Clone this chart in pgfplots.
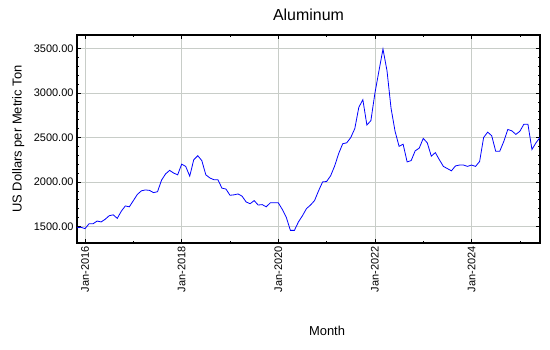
\documentclass[border=0pt]{standalone}
\usepackage{pgfplots}
\pgfplotsset{compat=1.18}
\usepackage{fontspec}
\setmainfont{Liberation Sans}
\definecolor{gridc}{RGB}{200,205,200}
\begin{document}
\begin{tikzpicture}
\useasboundingbox (-77bp,-107bp) rectangle (473bp,243bp);
\begin{axis}[
  scale only axis,
  width=463bp, height=208bp,
  at={(0,0)}, anchor=south west,
  xmin=-2, xmax=113,
  ymin=1313, ymax=3653,
  xtick={0,24,48,72,96},
  xticklabels={Jan-2016,Jan-2018,Jan-2020,Jan-2022,Jan-2024},
  minor xtick={12,36,60,84,108},
  ytick={1500,2000,2500,3000,3500},
  minor y tick num=4,
  major tick length=4bp, minor tick length=2.5bp,
  tick style={black, line width=0.6pt},
  grid=major,
  major grid style={gridc, line width=0.8pt},
  axis line style={black, line width=1.1pt},
  /pgf/number format/assume math mode=true,
  yticklabel style={/pgf/number format/.cd, fixed, fixed zerofill, precision=2, 1000 sep={}},
  ticklabel style={font=\fontsize{11}{12}\selectfont},
  xticklabel style={rotate=90, anchor=east},
  title={Aluminum},
  title style={font=\fontsize{16}{18}\selectfont, at={(axis description cs:0.5,1)}, anchor=south, yshift=5bp},
  xlabel={Month},
  xlabel style={font=\fontsize{13}{15}\selectfont, at={(axis description cs:0.54,-0.423)}, anchor=center},
  ylabel={US Dollars per Metric Ton},
  ylabel style={font=\fontsize{13}{15}\selectfont, at={(axis description cs:-0.127,0.5)}, anchor=center, rotate=0},
]
\addplot[color={rgb,255:red,0;green,0;blue,255}, line width=0.8pt, mark=none] table {
x y
-2 1485
-1 1490
0 1475
1 1530
2 1530
3 1560
4 1550
5 1580
6 1620
7 1630
8 1590
9 1670
10 1730
11 1720
12 1790
13 1860
14 1900
15 1910
16 1905
17 1880
18 1890
19 2020
20 2090
21 2130
22 2100
23 2080
24 2200
25 2175
26 2065
27 2250
28 2295
29 2240
30 2080
31 2045
32 2025
33 2025
34 1930
35 1920
36 1850
37 1855
38 1865
39 1840
40 1775
41 1755
42 1790
43 1740
44 1745
45 1720
46 1765
47 1765
48 1765
49 1690
50 1600
51 1455
52 1455
53 1550
54 1620
55 1700
56 1740
57 1790
58 1900
59 2000
60 2005
61 2070
62 2180
63 2320
64 2430
65 2440
66 2500
67 2600
68 2840
69 2925
70 2640
71 2690
72 3000
73 3250
74 3495
75 3250
76 2830
77 2570
78 2400
79 2425
80 2225
81 2240
82 2350
83 2380
84 2490
85 2440
86 2290
87 2330
88 2250
89 2175
90 2150
91 2125
92 2180
93 2190
94 2190
95 2175
96 2190
97 2175
98 2230
99 2500
100 2560
101 2520
102 2345
103 2345
104 2455
105 2590
106 2575
107 2535
108 2570
109 2650
110 2650
111 2365
112 2440
113 2500
};
\end{axis}
\end{tikzpicture}
\end{document}
